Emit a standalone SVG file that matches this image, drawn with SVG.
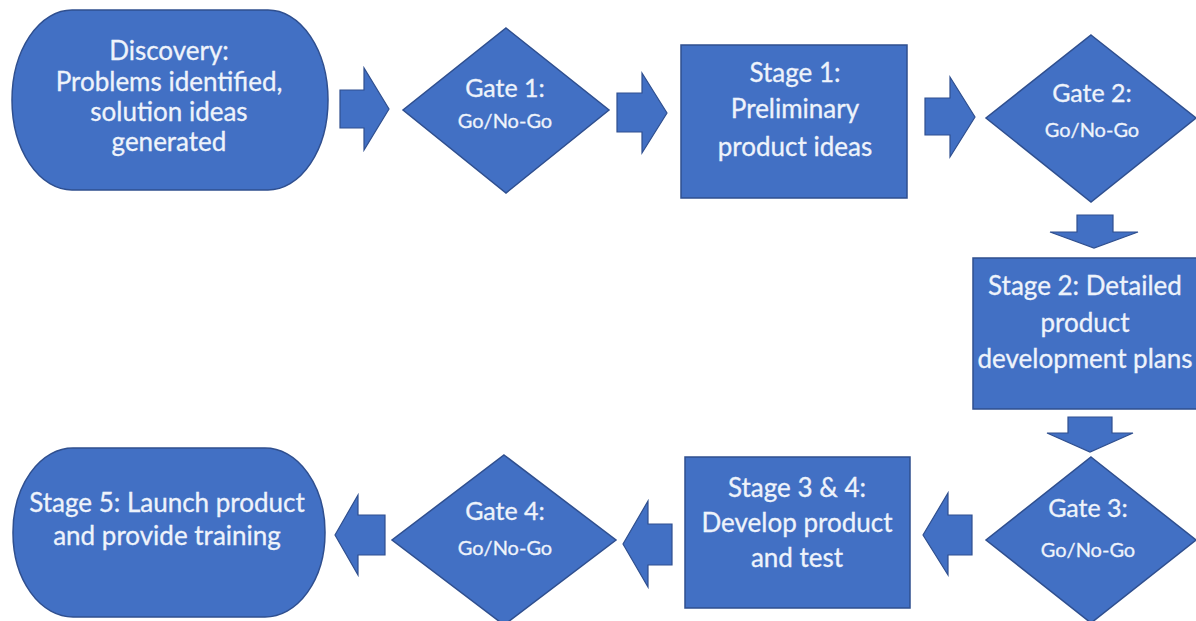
<svg xmlns="http://www.w3.org/2000/svg" width="1196" height="621" viewBox="0 0 1196 621">
<style>
.s{fill:#4270c4;stroke:#2f4f8f;stroke-width:1.5}
.a{fill:#4270c4;stroke:#2f4f8f;stroke-width:1.2}
text{font-family:Lato,"Open Sans",sans-serif;fill:#eef3fb;text-anchor:middle;stroke:#eef3fb;stroke-width:0.3}
.t{font-size:26px}
.g{font-size:25px}
.n{font-size:20px}
</style>
<rect width="1196" height="621" fill="#ffffff"/>
<g id="connectors">
<path class="a" d="M340,90 H364 V68 L389,109 L364,150 V128 H340 Z"/>
<path class="a" d="M617,93 H642 V73 L667,113 L642,153 V132 H617 Z"/>
<path class="a" d="M925,98 H950 V77 L975,117 L950,157 V135 H925 Z"/>
<path class="a" d="M1077,215 H1113 V232 H1138 L1094,248 L1050,232 H1077 Z"/>
<path class="a" d="M1068,417 H1112 V433 H1133 L1090,452 L1047,433 H1068 Z"/>
<path class="a" d="M972,515 H948 V493 L923,535 L948,575 V555 H972 Z"/>
<path class="a" d="M672,524 H648 V501 L623,544 L648,587 V565 H672 Z"/>
<path class="a" d="M385,515 H358 V495 L335,535 L358,575 V555 H385 Z"/>
</g>
<g id="discovery">
<rect class="s" x="12" y="10" width="316" height="180" rx="60" ry="90"/>
<text class="t" x="169" y="60">Discovery:</text>
<text class="t" x="169" y="91">Problems identified,</text>
<text class="t" x="169" y="121">solution ideas</text>
<text class="t" x="169" y="151">generated</text>
</g>
<g id="gate1">
<path class="s" d="M506,28 L609,110 L506,193 L403,110 Z"/>
<text class="g" x="505" y="97">Gate 1:</text>
<text class="n" x="505" y="128">Go/No-Go</text>
</g>
<g id="stage1">
<rect class="s" x="681" y="45" width="226" height="153"/>
<text class="t" x="795" y="82">Stage 1:</text>
<text class="t" x="795" y="118">Preliminary</text>
<text class="t" x="795" y="156">product ideas</text>
</g>
<g id="gate2">
<path class="s" d="M1091,35 L1196,118 L1091,202 L986,118 Z"/>
<text class="g" x="1092" y="102">Gate 2:</text>
<text class="n" x="1092" y="137">Go/No-Go</text>
</g>
<g id="stage2">
<rect class="s" x="973" y="258" width="230" height="151"/>
<text class="t" x="1085" y="295">Stage 2: Detailed</text>
<text class="t" x="1085" y="332">product</text>
<text class="t" x="1085" y="368">development plans</text>
</g>
<g id="gate3">
<path class="s" d="M1091,457 L1196,540 L1091,623 L986,540 Z"/>
<text class="g" x="1088" y="517">Gate 3:</text>
<text class="n" x="1088" y="557">Go/No-Go</text>
</g>
<g id="stage34">
<rect class="s" x="685" y="457" width="225" height="151"/>
<text class="t" x="797" y="497">Stage 3 &amp; 4:</text>
<text class="t" x="797" y="532">Develop product</text>
<text class="t" x="797" y="567">and test</text>
</g>
<g id="gate4">
<path class="s" d="M504,455 L616,540 L504,625 L392,540 Z"/>
<text class="g" x="505" y="520">Gate 4:</text>
<text class="n" x="505" y="555">Go/No-Go</text>
</g>
<g id="stage5">
<rect class="s" x="13" y="448" width="312" height="169" rx="60" ry="84"/>
<text class="t" x="167" y="512">Stage 5: Launch product</text>
<text class="t" x="167" y="545">and provide training</text>
</g>
</svg>
